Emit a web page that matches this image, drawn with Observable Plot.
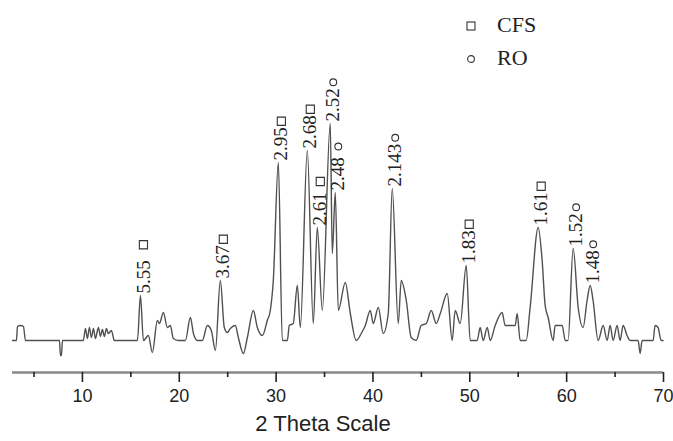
<!DOCTYPE html>
<html>
<head>
<meta charset="utf-8">
<script src="https://cdn.jsdelivr.net/npm/d3@7"></script>
<script src="https://cdn.jsdelivr.net/npm/@observablehq/plot@0.6"></script>
<style>
  html, body { margin: 0; padding: 0; background: #fff; }
  #wrap { position: relative; width: 673px; height: 441px; }
  #legend { position: absolute; left: 466px; top: 8px; font-family: "Liberation Serif", serif; font-size: 22px; color: #222; line-height: 33px; }
  #legend svg { vertical-align: 1px; margin-right: 21px; }
</style>
</head>
<body>
<div id="wrap"><div id="legend"></div></div>
<script>
// 2-theta positions (degrees) and relative intensity of the XRD trace
const theta = [2.78,3.19,3.29,3.60,3.91,4.12,7.63,7.73,7.83,7.94,10.10,10.31,10.52,10.72,10.93,11.14,11.34,11.65,11.86,12.06,12.27,12.48,12.68,12.99,13.30,15.68,15.99,16.30,16.81,17.22,17.74,17.95,18.36,18.77,19.08,19.39,19.91,20.63,21.15,21.46,21.87,22.38,22.90,23.31,23.73,24.24,24.65,24.96,25.27,25.79,26.10,26.62,27.03,27.65,28.06,28.58,29.09,29.40,29.71,30.23,30.64,31.16,31.36,31.77,32.19,32.50,33.22,33.84,34.25,34.77,35.59,35.80,36.11,36.42,37.14,37.66,38.28,38.79,39.21,39.72,40.03,40.55,41.06,41.58,41.99,42.61,42.92,43.44,43.95,44.47,44.98,45.50,46.02,46.53,46.95,47.67,48.18,48.49,49.01,49.63,50.04,50.76,51.07,51.38,51.80,52.11,52.62,53.34,53.65,54.69,54.89,55.20,55.82,56.23,57.06,57.47,57.78,58.09,58.61,58.81,59.54,59.85,60.15,60.67,61.19,61.70,62.11,62.43,62.73,63.25,63.77,64.18,64.49,64.80,65.21,65.52,65.83,66.24,66.55,67.38,67.59,67.79,68.93,69.13,69.44,69.75,69.96];
const intensity = [0,0,14,15,14,0,0,-15,-15,0,0,12,2,13,3,12,2,13,4,11,4,12,7,10,0,0,45,0,5,-12,20,17,28,13,15,2,0,0,23,7,0,0,15,10,-10,60,13,8,12,15,3,-13,3,30,13,5,20,30,60,178,0,0,15,17,55,13,190,17,113,30,217,87,148,30,58,27,0,7,15,30,17,33,7,27,152,17,60,40,3,0,15,17,30,17,27,47,0,30,17,75,0,0,13,0,13,0,15,28,15,15,27,0,0,33,113,80,35,23,0,15,15,0,0,92,33,13,40,55,40,0,15,0,15,0,15,0,15,5,0,0,-13,0,0,15,13,0,0];

// annotated reflections: d-spacing label and phase
const peakTheta = [15.99,24.24,30.23,33.22,34.25,35.59,36.11,41.99,49.63,57.06,60.67,62.43];
const peakIntensity = [45,60,178,190,113,217,148,152,75,113,92,55];
const peakLabel = ["5.55  ","3.67","2.95","2.68","2.61 ","2.52","2.48 ","2.143","1.83","1.61","1.52","1.48"];
const peakPhase = ["CFS","CFS","CFS","CFS","CFS","RO","RO","RO","CFS","CFS","RO","RO"];

const phaseNames = ["CFS","RO"];
const phaseShapes = ["square","circle"];

const majorTicks = [10,20,30,40,50,60,70];
const minorTicks = [5,15,25,35,45,55,65];
const xTitle = "2 Theta Scale";

const W = 673, H = 441, mL = 12, mR = 10, mT = 10, mB = 69;
const xDomain = [2.78, 70], yDomain = [-32, 330];
const labelFont = "Liberation Serif";
const labelSize = 19;

const trace = theta.map((t, i) => ({t, v: intensity[i]}));

// place each phase symbol just beyond the end of its rotated label
const yScale = Plot.scale({y: {domain: yDomain, range: [H - mB, mT]}});
const ctx = document.createElement("canvas").getContext("2d");
ctx.font = `${labelSize}px "${labelFont}"`;
const peaks = peakTheta.map((t, i) => {
  const w = ctx.measureText(peakLabel[i]).width;
  const py = yScale.apply(peakIntensity[i]) - 2 - w - 6;
  return {t, v: peakIntensity[i], label: peakLabel[i], phase: peakPhase[i], sv: yScale.invert(py)};
});

const chart = Plot.plot({
  width: W,
  height: H,
  marginLeft: mL,
  marginRight: mR,
  marginTop: mT,
  marginBottom: mB,
  style: {fontFamily: "Liberation Sans, Arial, sans-serif", background: "#fff", overflow: "visible"},
  x: {domain: xDomain},
  y: {domain: yDomain, axis: null},
  marks: [
    Plot.ruleY([yDomain[0]], {stroke: "#8a8a8a", strokeWidth: 2.5}),
    Plot.axisX({ticks: minorTicks, tickSize: 5, tickFormat: () => "", stroke: "#222", strokeWidth: 1.6, label: null}),
    Plot.axisX({ticks: majorTicks, tickSize: 10, tickPadding: 7, fontSize: 18, color: "#222", strokeWidth: 1.6, label: null}),
    Plot.text([xTitle], {frameAnchor: "bottom", dx: -15, dy: 51, fontSize: 22, fill: "#222", lineAnchor: "middle"}),
    Plot.line(trace, {x: "t", y: "v", stroke: "#505050", strokeWidth: 1.4, curve: "monotone-x"}),
    Plot.text(peaks, {x: "t", y: "v", text: "label", rotate: -90, textAnchor: "start", lineAnchor: "middle", dx: 3, dy: -2, fontSize: labelSize, fontFamily: labelFont, fill: "#222"}),
    Plot.dot(peaks.filter(d => d.phase === phaseNames[0]), {x: "t", y: "sv", symbol: phaseShapes[0], r: 4.6, dx: 3, stroke: "#333", strokeWidth: 1.1, fill: "none"}),
    Plot.dot(peaks.filter(d => d.phase === phaseNames[1]), {x: "t", y: "sv", symbol: phaseShapes[1], r: 3.4, dx: 3, stroke: "#333", strokeWidth: 1.1, fill: "none"})
  ]
});
document.getElementById("wrap").prepend(chart);

const legend = document.getElementById("legend");
phaseNames.forEach((name, i) => {
  const row = document.createElement("div");
  const shape = phaseShapes[i] === "square"
    ? `<rect x="1" y="1" width="8" height="8" fill="none" stroke="#333" stroke-width="1.1"/>`
    : `<circle cx="5" cy="5" r="3.4" fill="none" stroke="#333" stroke-width="1.1"/>`;
  row.innerHTML = `<svg width="10" height="10">${shape}</svg>${name}`;
  legend.appendChild(row);
});
</script>
</body>
</html>
